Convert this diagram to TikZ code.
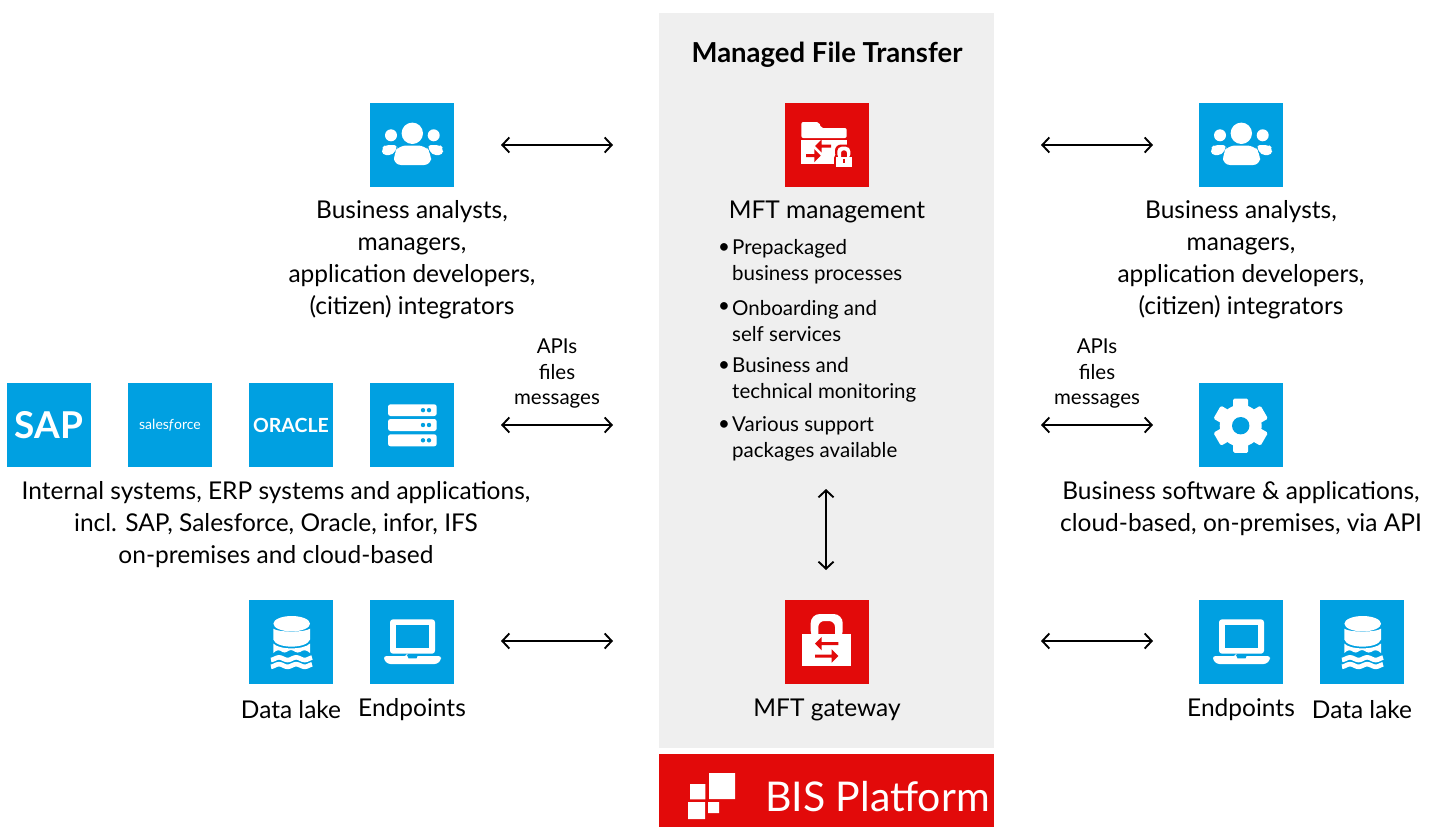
\documentclass[tikz,border=0pt]{standalone}
\usepackage{fontspec}
\setmainfont{Lato}
\usetikzlibrary{arrows.meta}
\definecolor{bisblue}{HTML}{00A0E1}
\definecolor{bisred}{HTML}{E20A0A}
\definecolor{panel}{HTML}{EFEFEF}
\tikzset{
  tile/.style={minimum size=84pt,inner sep=0pt,outer sep=0pt,draw=none,text=white},
  bluetile/.style={tile,fill=bisblue},
  redtile/.style={tile,fill=bisred},
  lbl/.style={align=center,inner sep=0pt,font=\fontsize{24.5}{32}\selectfont},
  small/.style={align=center,inner sep=0pt,font=\fontsize{20.5}{25.5}\selectfont},
  item/.style={align=left,anchor=west,inner sep=0pt,font=\fontsize{20.5}{26}\selectfont},
  link/.style={draw=black,line width=1.9pt,{Straight Barb[length=7pt,width=15pt,line width=1.9pt]}-{Straight Barb[length=7pt,width=15pt,line width=1.9pt]}},
  iconpeople/.pic={
    \fill[white] (42.3,30.3) circle (10.7) (21,32.3) circle (6) (63.7,32.3) circle (6);
    \fill[white,rounded corners=7pt] (24,62) -- (24,50) -- (29,42.5) -- (55,42.5) -- (61,50) -- (61,62) -- cycle;
    \fill[white,rounded corners=4pt] (12,52) -- (12,45) -- (15,42) -- (28,42) -- (23,52) -- cycle;
    \fill[white,rounded corners=4pt] (73,52) -- (73,45) -- (70,42) -- (57,42) -- (62,52) -- cycle;
  },
  iconserver/.pic={
    \foreach \ya/\yb in {21.3/33,36/48,51.3/63.3}{
      \fill[white,rounded corners=2.5pt] (18,\ya) rectangle (66.7,\yb);
      \fill[bisblue] (53,{(\ya+\yb)/2}) circle (2.2) (59,{(\ya+\yb)/2}) circle (2.2);
    }
  },
  iconlaptop/.pic={
    \fill[white,rounded corners=3pt,even odd rule] (20,53.7) -- (20,19.3) -- (65,19.3) -- (65,53.7) -- cycle;
    \fill[bisblue] (25.7,24.7) rectangle (59.3,47.7);
    \fill[white,rounded corners=2.5pt] (14,56) -- (37,56) -- (37,56) -- (48,56) -- (71,56) -- (71,60) -- (67,64) -- (18,64) -- (14,60) -- cycle;
    \fill[bisblue] (37,55) -- (48,55) -- (46.5,58.3) -- (38.5,58.3) -- cycle;
  },
  iconlake/.pic={
    \fill[white] (42.7,23.7) ellipse (18.3 and 7.7);
    \fill[white] (24.3,28.7) .. controls (29,32.5) and (56,32.5) .. (61,28.7) -- (61,39.5) .. controls (58,49) and (27,49) .. (24.3,39.5) -- cycle;
    \fill[white] (24.3,43.5) .. controls (30,50) and (55,50) .. (61,43.5)
       -- (61,53) .. controls (57,49.5) and (55,49.5) .. (51,52)
       .. controls (47,54) and (45,50) .. (42,50) .. controls (39,50) and (37,54) .. (33.5,52)
       .. controls (30,49.5) and (28,49.5) .. (24.3,53) -- cycle;
    \draw[white,line width=4.6pt] plot[domain=22:63,samples=50] (\x,{58.7+1.3*sin(\x*21)});
    \draw[white,line width=4.6pt] plot[domain=22:63,samples=50] (\x,{65.5+1.3*sin(\x*21)});
  },
  icongear/.pic={
    \fill[white] (41.7,42.7) circle (21);
    \foreach \a in {0,60,120}{
      \fill[white,rotate around={\a:(41.7,42.7)},rounded corners=1.5pt] (34.2,15.5) rectangle (49.2,69.9);
    }
    \fill[bisblue] (41.7,42.7) circle (8.7);
  },
  iconfolder/.pic={
    \fill[white,rounded corners=2pt] (16.3,35) -- (16.3,19) -- (34,19) -- (36,25) -- (61.7,25) -- (61.7,35) -- cycle;
    \fill[white] (16.3,36.5) rectangle (61.7,61);
    \fill[bisred] (46,41.5) -- (36.7,41.5) -- (36.7,36.5) -- (30,43) -- (36.7,49.5) -- (36.7,44.5) -- (46,44.5) -- cycle;
    \fill[bisred] (21,51.2) -- (29.3,51.2) -- (29.3,46.2) -- (35.7,52.7) -- (29.3,59.2) -- (29.3,54.2) -- (21,54.2) -- cycle;
    \fill[bisred,rounded corners=4pt] (49,66.5) rectangle (69,51);
    \fill[bisred,rounded corners=6pt] (50,56) -- (50,41.5) -- (67.5,41.5) -- (67.5,56) -- cycle;
    \fill[white,rounded corners=4.5pt,even odd rule] (52.3,56) -- (52.3,43.7) -- (65.3,43.7) -- (65.3,56) -- cycle
      [rounded corners=2.5pt] (56,56) -- (56,47.3) -- (62,47.3) -- (62,56) -- cycle;
    \fill[white] (51,53.5) rectangle (67,64);
    \fill[bisred] (58,56) rectangle (60,60);
  },
  icongateway/.pic={
    \fill[white,rounded corners=9pt,even odd rule] (25.7,40) -- (25.7,14) -- (57.7,14) -- (57.7,40) -- cycle
       [rounded corners=6pt] (33.3,40) -- (33.3,21) -- (50,21) -- (50,40) -- cycle;
    \fill[white] (17.3,34) rectangle (66,66);
    \fill[bisred] (53.3,42.2) -- (36.7,42.2) -- (36.7,37) -- (30,43.7) -- (36.7,50.4) -- (36.7,45.2) -- (53.3,45.2) -- cycle;
    \fill[bisred] (30,54.5) -- (46.7,54.5) -- (46.7,49.3) -- (53.3,56) -- (46.7,62.7) -- (46.7,57.5) -- (30,57.5) -- cycle;
  },
}
\begin{document}
\begin{tikzpicture}[x=1pt,y=-1pt]
\useasboundingbox (0,0) rectangle (1445,827);
% panels
\node[fill=panel,minimum width=335pt,minimum height=735pt,inner sep=0pt,outer sep=0pt] (panelbox) at (826.5,380.5) {};
\node[fill=bisred,minimum width=335pt,minimum height=73pt,inner sep=0pt,outer sep=0pt] (platform) at (826.5,790.5) {};
\node[inner sep=0pt,text=white,font=\fontsize{41}{41}\selectfont,anchor=west] (platformtext) at (765,797) {BIS Platform};
\fill[white] (709,773) rectangle (735,799) (690,784) rectangle (705.3,799.3) (688,802) rectangle (705,819) (708,802) rectangle (719,813);
\node[inner sep=0pt,font=\fontsize{27.5}{30}\selectfont\bfseries] (title) at (827,55) {Managed File Transfer};
% tiles left
\node[bluetile] (t1) at (412,145) {}; \pic at (370,103) {iconpeople};
\node[bluetile,font=\fontsize{37}{37}\selectfont\bfseries] (sap) at (49,425) {SAP};
\node[bluetile,font=\fontsize{14}{14}\selectfont] (sf) at (170,425) {sales\textit{f}orce};
\node[bluetile,font=\fontsize{19.5}{20}\selectfont\bfseries] (ora) at (291,425) {ORACLE};
\node[bluetile] (srv) at (412,425) {}; \pic at (370,383) {iconserver};
\node[bluetile] (lk1) at (291,642) {}; \pic at (249,600) {iconlake};
\node[bluetile] (lp1) at (412,642) {}; \pic at (370,600) {iconlaptop};
% centre
\node[redtile] (mgmt) at (827,145) {}; \pic at (785,103) {iconfolder};
\node[redtile] (gw) at (827,642) {}; \pic at (785,600) {icongateway};
% right
\node[bluetile] (t2) at (1241,145) {}; \pic at (1199,103) {iconpeople};
\node[bluetile] (gear) at (1241,425) {}; \pic at (1199,383) {icongear};
\node[bluetile] (lp2) at (1241,642) {}; \pic at (1199,600) {iconlaptop};
\node[bluetile] (lk2) at (1362,642) {}; \pic at (1320,600) {iconlake};
% labels
\node[lbl] (l1) at (412,260) {Business analysts,\\managers,\\application developers,\\(citizen) integrators};
\node[lbl] (r1) at (1241,260) {Business analysts,\\managers,\\application developers,\\(citizen) integrators};
\node[lbl] (l2) at (276,525) {Internal systems, ERP systems and applications,\\incl. SAP, Salesforce, Oracle, infor, IFS\\on-premises and cloud-based};
\node[lbl] (r2) at (1241,509) {Business software \& applications,\\cloud-based, on-premises, via API};
\node[lbl] (l3a) at (291,710) {Data lake};
\node[lbl] (l3b) at (412,710) {Endpoints};
\node[lbl] (r3a) at (1241,710) {Endpoints};
\node[lbl] (r3b) at (1362,710) {Data lake};
\node[lbl] (c1) at (827,212) {MFT management};
\node[lbl] (c2) at (827,710) {MFT gateway};
\node[small] (apil) at (557,374) {APIs\\files\\messages};
\node[small] (apir) at (1097,374) {APIs\\files\\messages};
% bullets
\foreach \n/\y/\t in {a/262/{Prepackaged\\business processes},b/321/{Onboarding and\\self services},c/380/{Business and\\technical monitoring},d/439/{Various support\\packages available}}{
  \node[item] (it\n) at (732,\y) {\t};
  \node[inner sep=0pt,font=\fontsize{20.5}{26}\selectfont] (bu\n) at (724,\y-13) {•};
}
% connector ends
\coordinate (a1) at (501,145); \coordinate (b1) at (613,145);
\coordinate (a2) at (501,425); \coordinate (b2) at (613,425);
\coordinate (a3) at (501,641); \coordinate (b3) at (613,641);
\coordinate (c1e) at (1041,145); \coordinate (d1) at (1153,145);
\coordinate (c2e) at (1041,425); \coordinate (d2) at (1153,425);
\coordinate (c3e) at (1041,641); \coordinate (d3) at (1153,641);
\coordinate (v1) at (826,489); \coordinate (v2) at (826,570);
\foreach \p/\q in {a1/b1,a2/b2,a3/b3,c1e/d1,c2e/d2,c3e/d3,v1/v2}{ \draw[link] (\p) -- (\q); }
\end{tikzpicture}
\end{document}
